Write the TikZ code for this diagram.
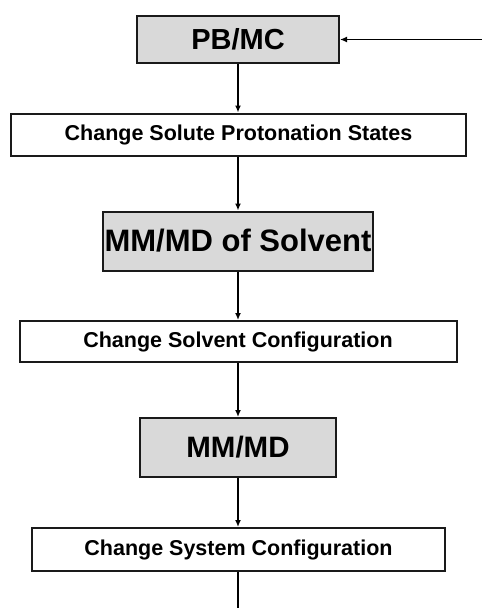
\documentclass[tikz,border=0pt]{standalone}
\usepackage{fontspec}
\setmainfont{Liberation Sans}
\usetikzlibrary{arrows.meta}
\definecolor{boxgray}{HTML}{D9D9D9}
\definecolor{edge}{HTML}{1A1A1A}
\tikzset{
  base/.style={draw=edge, line width=2pt, inner sep=0pt, align=center, font=\bfseries},
  graybox/.style={base, fill=boxgray},
  whitebox/.style={base, fill=white, font=\bfseries\fontsize{21.5}{25}\selectfont},
  conn/.style={line width=1.4pt, draw=black, -{Latex[length=7pt,width=6pt]}},
  plainconn/.style={line width=1.4pt, draw=black}
}
\begin{document}
\begin{tikzpicture}[x=1pt,y=-1pt]
\useasboundingbox (0,0) rectangle (482,608);
\node[graybox, minimum width=202pt, minimum height=47pt, font=\bfseries\fontsize{29}{34}\selectfont] (pb) at (238,39.5) {PB/MC};
\node[whitebox, minimum width=455pt, minimum height=42pt] (sol) at (238.5,134.5) {Change Solute Protonation States};
\node[graybox, minimum width=270pt, minimum height=59pt, font=\bfseries\fontsize{31}{36}\selectfont] (mms) at (238,241) {MM/MD of Solvent};
\node[whitebox, minimum width=437pt, minimum height=41pt] (sc) at (238,341.5) {Change Solvent Configuration};
\node[graybox, minimum width=196pt, minimum height=59pt, font=\bfseries\fontsize{29.5}{34}\selectfont] (mm) at (238,447.5) {MM/MD};
\node[whitebox, minimum width=413pt, minimum height=43pt] (sys) at (238.5,549.5) {Change System Configuration};
\coordinate (in) at (482,39.5);
\coordinate (out) at (238,608);
\draw[conn] (in) -- (pb.east);
\draw[conn] (pb.south) -- (pb.south |- sol.north);
\draw[conn] (pb.south |- sol.south) -- (pb.south |- mms.north);
\draw[conn] (mms.south) -- (mms.south |- sc.north);
\draw[conn] (mms.south |- sc.south) -- (mm.north);
\draw[conn] (mm.south) -- (mm.south |- sys.north);
\draw[plainconn] (mm.south |- sys.south) -- (out);
\end{tikzpicture}
\end{document}
